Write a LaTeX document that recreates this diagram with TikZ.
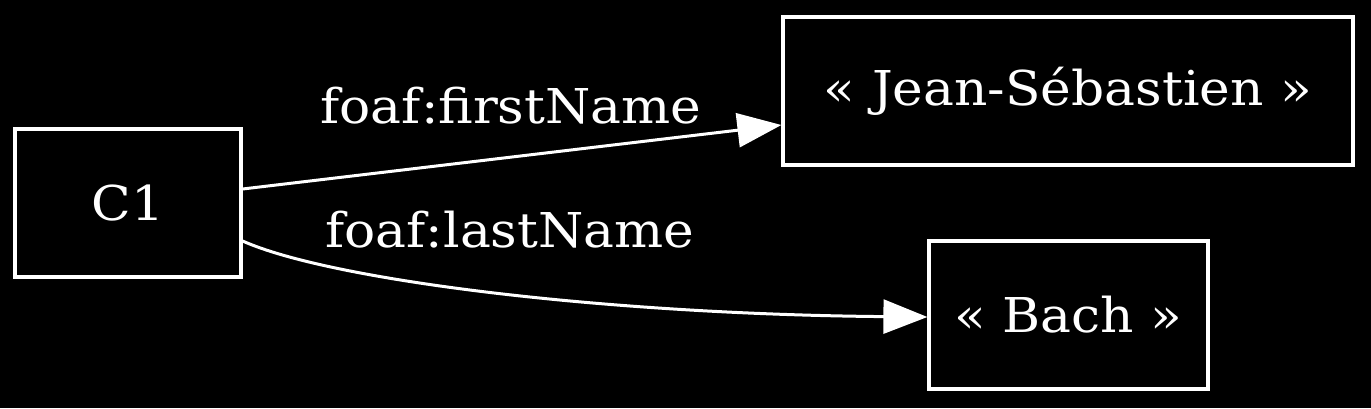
\documentclass[tikz,border=0pt]{standalone}
\usepackage{fontspec}
\setmainfont[FakeStretch=1.08]{DejaVu Serif}
\usetikzlibrary{arrows.meta}
\begin{document}
\begin{tikzpicture}[x=1pt,y=-1pt,
  box/.style={draw=white,line width=3.2pt,minimum height=148pt,inner sep=0pt,text=white,font=\fontsize{48}{50}\selectfont},
  edge/.style={draw=white,line width=3pt,-{Triangle[length=44pt,width=34pt]}},
  lab/.style={text=white,font=\fontsize{48}{50}\selectfont,inner sep=0pt}]
\fill[black] (0,0) rectangle (1371,408);
\useasboundingbox (0,0) rectangle (1371,408);
\node[box,minimum width=226pt] (c1) at (128,203) {C1};
\node[box,minimum width=570pt] (jean) at (1068,91) {« Jean-Sébastien »};
\node[box,minimum width=279pt] (bach) at (1068.5,315) {« Bach »};
\coordinate (s1) at (c1.east |- 0,189);
\coordinate (s2) at (c1.east |- 0,241);
\coordinate (e1) at (jean.west |- 0,125);
\coordinate (e2) at (bach.west |- 0,317);
\draw[edge] (s1) -- (e1);
\draw[edge] (s2) .. controls (330,280) and (600,314) .. (e2);
\node[lab] (l1) at (511,106) {foaf:firstName};
\node[lab] (l2) at (510,230) {foaf:lastName};
\end{tikzpicture}
\end{document}
